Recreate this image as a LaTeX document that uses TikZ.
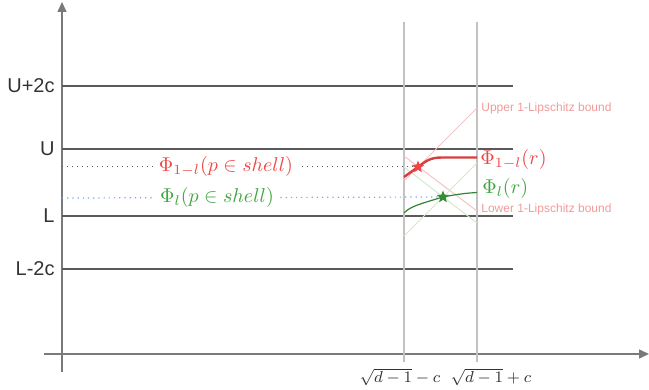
\documentclass[tikz,border=0pt]{standalone}
\usepackage{amsmath}
\usepackage{fontspec}
\setmainfont{Liberation Sans}
\usetikzlibrary{arrows.meta, positioning, shapes.geometric, calc}
\definecolor{axisgrey}{HTML}{7A7A7A}
\definecolor{levelgrey}{HTML}{5A5A5A}
\definecolor{vgrey}{HTML}{C2C2C2}
\definecolor{labgrey}{HTML}{333333}
\definecolor{shellred}{HTML}{EE4646}
\definecolor{shellgreen}{HTML}{3FA63F}
\definecolor{boundpink}{HTML}{F7C2C2}
\definecolor{boundtext}{HTML}{F29A9A}
\definecolor{boundgreen}{HTML}{D2EACB}
\definecolor{dotblue}{HTML}{6FA9EE}

\begin{document}
\begin{tikzpicture}[x=0.5pt, y=-0.5pt,
    axis/.style={axisgrey, line width=0.75pt, -{Triangle[length=5pt, width=4.5pt]}},
    level/.style={levelgrey, line width=0.55pt},
    vline/.style={vgrey, line width=0.6pt},
    levellabel/.style={font=\normalsize, text=labgrey, inner sep=0pt},
    ticklabel/.style={font=\fontsize{8.3}{10}\selectfont, text=labgrey},
    shelllabel/.style={fill=white, inner xsep=3pt, inner ysep=1pt},
    bound/.style={boundpink, line width=0.5pt},
    boundg/.style={boundgreen, line width=0.5pt},
    boundlabel/.style={font=\fontsize{6}{7}\selectfont, text=boundtext, inner sep=1pt, anchor=west},
    rlabel/.style={anchor=west, inner sep=0pt, font=\fontsize{10}{12}\selectfont},
    starmark/.style={star, star points=5, star point ratio=2.3, minimum size=6.5pt, inner sep=0pt}]
  \useasboundingbox (0,0) rectangle (649,390);
  % axes
  \coordinate (xstart) at (44,354); \coordinate (xend) at (649,354);
  \coordinate (ystart) at (62,372); \coordinate (yend) at (62,2);
  \draw[axis] (xstart) -- (xend);
  \draw[axis] (ystart) -- (yend);
  % levels
  \foreach \name/\yy/\txt in {up2/86/U+2c, up/149/U, lo/216/L, lo2/269/L-2c} {
    \coordinate (\name-a) at (62,\yy);
    \coordinate (\name-b) at (513,\yy);
    \node[levellabel, left=3.5pt of \name-a] (\name-lab) {\txt};
    \draw[level] (\name-a) -- (\name-b);
  }
  % shell radii
  \coordinate (va-top) at (404,22); \coordinate (va-bot) at (404,362);
  \coordinate (vb-top) at (477,22); \coordinate (vb-bot) at (477,362);
  \draw[vline] (va-top) -- (va-bot);
  \draw[vline] (vb-top) -- (vb-bot);
  \node[ticklabel] (va-lab) at (400,377) {$\sqrt{d-1}-c$};
  \node[ticklabel] (vb-lab) at (491,377) {$\sqrt{d-1}+c$};
  % 1-Lipschitz bounds
  \coordinate (ub-a) at (404,181); \coordinate (ub-b) at (477,108);
  \coordinate (lb-a) at (404,156); \coordinate (lb-b) at (477,211);
  \draw[bound] (ub-a) -- (ub-b);
  \draw[bound] (lb-a) -- (lb-b);
  \coordinate (gb1-a) at (404,167); \coordinate (gb1-b) at (477,223);
  \coordinate (gb2-a) at (404,236); \coordinate (gb2-b) at (477,163);
  \draw[boundg] (gb1-a) -- (gb1-b);
  \draw[boundg] (gb2-a) -- (gb2-b);
  \node[boundlabel] (ub-lab) at ($(ub-b)+(2,0)$) {Upper 1-Lipschitz bound};
  \node[boundlabel] (lb-lab) at ($(lb-b)+(2,-2)$) {Lower 1-Lipschitz bound};
  % star positions
  \coordinate (s-hi) at (418,167);
  \coordinate (s-lo) at (443,197);
  % dotted shell levels
  \coordinate (hi-a) at (62,167); \coordinate (lo-a) at (62,198);
  \draw[levelgrey, dotted, line width=0.5pt] (hi-a) -- (s-hi);
  \draw[dotblue, dotted, line width=0.6pt] (lo-a) -- (s-lo);
  \node[shelllabel, text=shellred] (hi-lab) at (226,167) {$\Phi_{1-l}(p\in shell)$};
  \node[shelllabel, text=shellgreen] (lo-lab) at (217,198) {$\Phi_{l}(p\in shell)$};
  % curves
  \draw[shellred!90!black, line width=1.2pt] (404,177) -- (s-hi)
    .. controls (426,161) and (430,157.5) .. (442,157.5) -- (477,157.5);
  \draw[shellgreen!80!black, line width=0.6pt] (404,213)
    .. controls (410,207) and (416,205) .. (s-lo)
    .. controls (458,194) and (468,193) .. (477,192.5);
  \node[rlabel, shellred] (hi-r) at (480,160) {$\Phi_{1-l}(r)$};
  \node[rlabel, shellgreen] (lo-r) at (482,189) {$\Phi_{l}(r)$};
  \node[starmark, fill=shellred] (star-hi) at (s-hi) {};
  \node[starmark, fill=shellgreen!85!black] (star-lo) at (s-lo) {};
\end{tikzpicture}
\end{document}
